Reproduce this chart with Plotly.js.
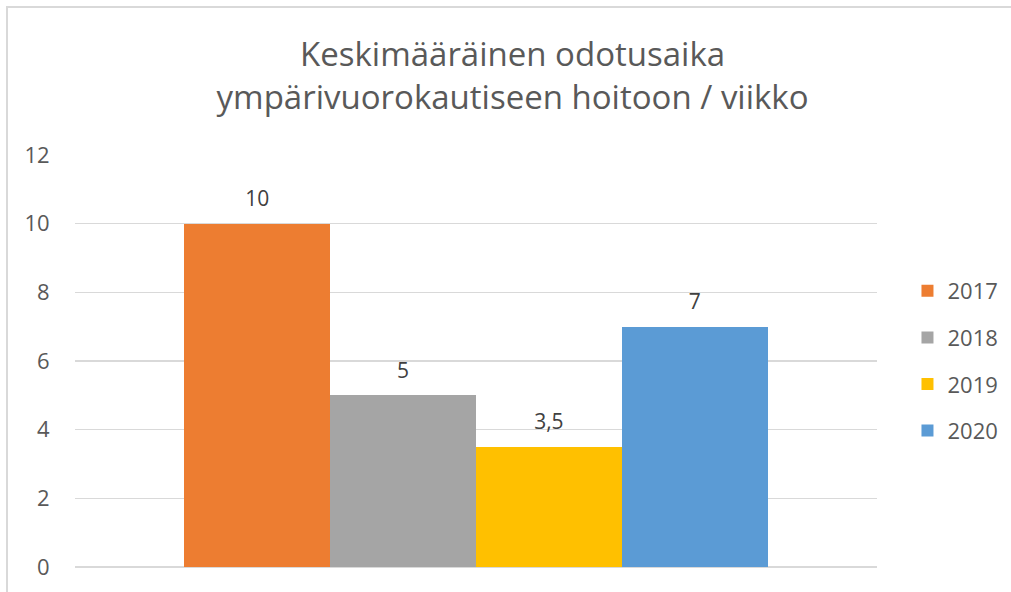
<!DOCTYPE html>
<html>
<head>
<meta charset="utf-8">
<script src="https://cdn.plot.ly/plotly-3.0.1.min.js"></script>
<style>
  html, body { margin: 0; padding: 0; background: #ffffff; }
  #wrap { position: relative; width: 1011px; height: 592px; overflow: hidden; }
  #chart { position: absolute; left: 0; top: 0; width: 1011px; height: 592px; }
  #frame { position: absolute; left: 6px; top: 6px; width: 1020px; height: 585px;
           border-top: 2px solid #d9d9d9; border-left: 2px solid #d9d9d9; pointer-events: none; }
</style>
</head>
<body>
<div id="wrap">
  <div id="chart"></div>
  <div id="frame"></div>
</div>
<script>
// Data
var years = ['2017', '2018', '2019', '2020'];
var values = [10, 5, 3.5, 7];
var colors = ['#ED7D31', '#A5A5A5', '#FFC000', '#5B9BD5'];
var yTicks = [0, 2, 4, 6, 8, 10, 12];
var titleText = 'Keskimääräinen odotusaika<br>ympärivuorokautiseen hoitoon / viikko';

var FONT = 'Open Sans, sans-serif';
var traces = [];
years.forEach(function (yr, i) {
  traces.push({
    type: 'bar',
    name: yr,
    x: [yr],
    y: [values[i]],
    marker: { color: colors[i], line: { width: 0 } },
    legendgroup: yr,
    hoverinfo: 'skip'
  });
});
traces.push({
  type: 'scatter',
  mode: 'markers+text',
  x: years,
  y: values,
  text: values.map(function (v) { return String(v).replace('.', ','); }),
  textposition: 'top center',
  textfont: { family: FONT, size: 21, color: '#404040' },
  marker: { size: 18, opacity: 0 },
  showlegend: false,
  hoverinfo: 'skip',
  cliponaxis: false
});

var layout = {
  width: 1011,
  height: 592,
  paper_bgcolor: '#ffffff',
  plot_bgcolor: '#ffffff',
  margin: { l: 75, r: 134, t: 155, b: 25, pad: 0, autoexpand: false },
  barmode: 'overlay',
  bargap: 0,
  separators: ', ',
  title: {
    text: titleText,
    font: { family: FONT, size: 33, color: '#595959' },
    x: 0.507, xref: 'container', xanchor: 'center',
    y: 0.888, yref: 'container', yanchor: 'top',
    automargin: false
  },
  xaxis: {
    type: 'category',
    range: [-1.25, 4.25],
    showticklabels: false,
    showgrid: false,
    showline: false,
    zeroline: false,
    ticks: ''
  },
  yaxis: {
    range: [0, 12],
    tickvals: yTicks,
    ticktext: yTicks.map(String),
    showgrid: true,
    gridcolor: '#d9d9d9',
    gridwidth: 1.5,
    zeroline: true,
    zerolinecolor: '#d9d9d9',
    zerolinewidth: 1.5,
    showline: false,
    ticks: 'outside',
    ticklen: 20,
    tickcolor: 'rgba(0,0,0,0)',
    tickfont: { family: FONT, size: 22, color: '#595959' }
  },
  showlegend: true,
  legend: {
    x: 1.038, xanchor: 'left',
    y: 0.5, yanchor: 'middle',
    font: { family: FONT, size: 22, color: '#595959' },
    traceorder: 'grouped',
    tracegroupgap: 15,
    itemwidth: 30,
    bgcolor: 'rgba(0,0,0,0)'
  }
};

Plotly.newPlot('chart', traces, layout, { displayModeBar: false, staticPlot: true });
</script>
</body>
</html>
